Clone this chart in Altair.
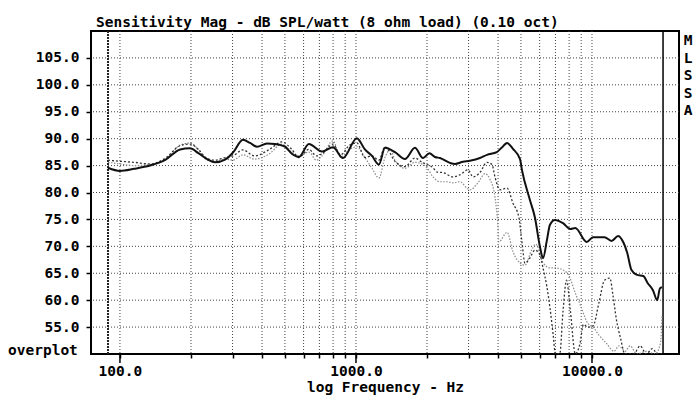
import altair as alt
import pandas as pd

TITLE = "Sensitivity Mag - dB SPL/watt (8 ohm load) (0.10 oct)"
X_TITLE = "log Frequency - Hz"
SIDE_TAG = "M\nL\nS\nS\nA"
CORNER_TAG = "overplot"

# Solid curve (on-axis)
freq_solid = [89, 100, 115, 134, 155, 180, 198, 215, 234, 253, 279, 301, 332, 356, 381,
              420, 454, 500, 535, 573, 632, 718, 799, 881, 1009, 1091, 1169, 1251, 1327,
              1463, 1613, 1778, 1923, 2047, 2162, 2270, 2500, 2630, 2840, 3040, 3350, 3590,
              3950, 4140, 4370, 4626, 4955, 5049, 5458, 5728, 6020, 6200, 6445, 6637, 6966,
              7536, 8100, 8500, 9500, 10100, 11300, 12100, 12900, 13400, 14100, 14700,
              15500, 16500, 17200, 18100, 18900, 19400, 19800]
db_solid = [84.6, 84.0, 84.4, 85.0, 86.0, 88.0, 88.2, 87.3, 86.2, 85.6, 86.1, 87.4, 89.8, 89.2, 88.5,
            89.1, 89.0, 88.5, 87.2, 86.6, 89.0, 87.6, 88.4, 86.4, 90.1, 88.0, 86.8, 85.2, 88.3,
            87.5, 86.2, 88.3, 86.4, 87.3, 86.6, 86.4, 85.5, 85.3, 85.7, 85.9, 86.4, 87.0,
            87.5, 88.3, 89.2, 88.1, 86.2, 84.2, 78.6, 75.4, 69.9, 67.8, 71.2, 74.0, 74.9,
            74.3, 73.2, 73.4, 70.8, 71.7, 71.7, 71.0, 71.9, 71.2, 68.8, 65.6,
            64.7, 64.5, 63.2, 61.9, 60.0, 62.2, 62.4]

# Dark dotted curve
freq_a = [89, 100, 115, 134, 155, 180, 198, 215, 234, 253, 279, 301, 332, 372, 430, 485, 535,
          573, 632, 680, 718, 799, 860, 940, 1009, 1091, 1169, 1251, 1327, 1463, 1613, 1778,
          1923, 2000, 2120, 2205, 2337, 2576, 2760, 2983, 3134, 3350, 3590, 3770, 3880, 4074,
          4367, 4626, 4900, 5050, 5200, 5450, 5730, 6020, 6200, 6440, 6640, 6850, 7000, 7300,
          7540, 7800, 8100, 8500, 8900, 9200, 9600, 10100, 10700, 11300, 11900, 12300, 12700,
          13200, 13800, 15000, 16000, 17000, 18000, 19000, 19800]
db_a = [86.0, 85.8, 85.6, 85.3, 86.3, 88.7, 89.0, 88.0, 86.3, 86.0, 86.5, 86.8, 87.9, 86.8, 88.0, 89.4, 88.0,
        86.5, 88.0, 86.8, 87.2, 89.0, 87.0, 88.8, 89.2, 86.5, 86.8, 86.0, 88.5, 85.8, 84.8, 86.4,
        85.5, 85.2, 84.6, 83.8, 83.7, 82.9, 83.3, 84.2, 82.9, 83.7, 85.6, 85.2, 82.9, 80.5,
        80.8, 78.0, 75.4, 70.8, 66.9, 67.8, 69.3, 68.4, 66.0, 62.5, 58.5, 53.5, 50.0, 50.0,
        58.0, 63.7, 58.0, 50.0, 52.0, 55.5, 55.0, 55.2, 59.5, 63.7, 64.1, 60.6, 56.3,
        53.0, 50.0, 50.0, 51.5, 50.0, 51.0, 50.0, 50.0]

# Grey dotted curve
freq_b = [89, 100, 115, 134, 155, 180, 198, 215, 234, 253, 279, 301, 332, 372, 430, 485, 535,
          573, 632, 680, 718, 799, 860, 940, 1009, 1091, 1169, 1251, 1327, 1400, 1463, 1613,
          1778, 1923, 2000, 2120, 2270, 2430, 2576, 2760, 2953, 3042, 3289, 3521, 3700, 3880,
          3990, 4030, 4367, 4626, 4955, 5200, 5550, 5780, 6200, 6640, 7000, 7536, 8000, 8500,
          9000, 9300, 9600, 10100, 10700, 11500, 12400, 13000, 13800, 14500, 15500, 17000,
          18500, 19500, 19800]
db_b = [85.6, 85.3, 85.0, 85.2, 86.0, 88.8, 89.2, 88.0, 86.0, 85.8, 86.2, 86.0, 87.0, 86.2, 87.2, 89.0, 87.5,
        86.8, 87.5, 86.0, 86.8, 89.6, 86.6, 88.0, 88.5, 86.5, 84.5, 82.7, 86.5, 88.0, 86.0, 84.5,
        85.6, 85.2, 84.6, 82.9, 82.0, 82.0, 81.8, 82.0, 80.8, 80.5, 81.8, 83.5, 82.4, 79.2,
        74.0, 70.8, 72.6, 69.0, 66.9, 66.5, 69.3, 70.4, 67.0, 66.0, 66.0, 65.6, 64.5, 61.3,
        58.7, 57.0, 55.7, 55.0, 53.5, 52.0, 50.5, 51.5, 50.5, 51.5, 50.0, 50.5,
        50.0, 52.0, 57.0]

grid_freqs = [100, 200, 300, 400, 500, 600, 700, 800, 900,
              1000, 2000, 3000, 4000, 5000, 6000, 7000, 8000, 9000, 10000]
major_freqs = [100, 1000, 10000]
grid_db = [55, 60, 65, 70, 75, 80, 85, 90, 95, 100, 105]
marker_freq = [89]
end_freq = [20000]

FONT = "DejaVu Sans Mono"
FS = 14.5
W, H = 588, 323

x_scale = alt.Scale(type="log", domain=[75.4, 23370], nice=False)
y_scale = alt.Scale(domain=[50, 110], nice=False, zero=False)

label_expr = ("datum.value == 100 ? '100.0' : datum.value == 1000 ? '1000.0' : "
              "datum.value == 10000 ? '10000.0' : ''")

X_AXIS = alt.Axis(
    values=grid_freqs, labelExpr=label_expr, tickSize=4, tickColor="black",
    tickWidth=1.5, domain=False, grid=False, labelOverlap=False, labelFlush=False,
    labelFont=FONT, labelFontSize=FS, labelFontWeight="bold", labelColor="black",
    labelPadding=6, title=X_TITLE, titleFont=FONT, titleFontSize=FS,
    titleFontWeight="bold", titleColor="black", titlePadding=3)

Y_AXIS = alt.Axis(
    values=grid_db, format=".1f", tickSize=5, tickColor="black", tickWidth=1.5,
    domain=False, grid=False, labelFont=FONT, labelFontSize=FS,
    labelFontWeight="bold", labelColor="black", labelPadding=7, title=None)


def xenc(field="f:Q"):
    return alt.X(field, scale=x_scale, axis=X_AXIS)


def yenc(field):
    return alt.Y(field, scale=y_scale, axis=Y_AXIS)


vgrid = alt.Chart(pd.DataFrame({"f": grid_freqs})).mark_rule(
    color="#444", strokeWidth=1, strokeDash=[1, 2]
).encode(x=xenc())

hgrid = alt.Chart(pd.DataFrame({"v": grid_db})).mark_rule(
    color="#444", strokeWidth=1, strokeDash=[1, 2]
).encode(y=yenc("v:Q"))

major_ticks = alt.Chart(pd.DataFrame({"f": major_freqs})).mark_rule(
    color="black", strokeWidth=1.5
).encode(x=xenc(), y=alt.value(H), y2=alt.value(H + 9))

marker = alt.Chart(pd.DataFrame({"f": marker_freq})).mark_rule(
    color="#222", strokeWidth=2, strokeDash=[2, 1]
).encode(x=xenc())

end_line = alt.Chart(pd.DataFrame({"f": end_freq})).mark_rule(
    color="black", strokeWidth=1.5
).encode(x=xenc())


def curve(freqs, dbs, color, width, dash=None):
    kw = dict(color=color, strokeWidth=width, interpolate="monotone", clip=True)
    if dash is not None:
        kw["strokeDash"] = dash
    return alt.Chart(pd.DataFrame({"f": freqs, "db": dbs})).mark_line(**kw).encode(
        x=xenc(), y=yenc("db:Q"), order="f:Q"
    )


line_b = curve(freq_b, db_b, "#8a8a8a", 1.2, [1.5, 1.5])
line_a = curve(freq_a, db_a, "#333333", 1.3, [2, 2])
line_s = curve(freq_solid, db_solid, "#111111", 2)

title_txt = alt.Chart(pd.DataFrame({"t": [TITLE]})).mark_text(
    align="left", baseline="alphabetic", font=FONT, fontSize=FS, fontWeight="bold", color="black"
).encode(x=alt.value(5), y=alt.value(-4), text="t:N")

side_txt = alt.Chart(pd.DataFrame({"t": [SIDE_TAG]})).mark_text(
    align="center", baseline="top", font=FONT, fontSize=FS, fontWeight="bold", color="black",
    lineBreak="\n", lineHeight=17.5
).encode(x=alt.value(W + 9), y=alt.value(3), text="t:N")

corner_txt = alt.Chart(pd.DataFrame({"t": [CORNER_TAG]})).mark_text(
    align="left", baseline="middle", font=FONT, fontSize=FS, fontWeight="bold", color="black"
).encode(x=alt.value(-83), y=alt.value(H - 3), text="t:N")

chart = alt.layer(
    vgrid, hgrid, marker, end_line, major_ticks, line_b, line_a, line_s,
    title_txt, side_txt, corner_txt
).properties(
    width=W, height=H,
    padding={"left": 91, "top": 31, "right": 21, "bottom": 55},
    autosize=alt.AutoSizeParams(type="none"),
    background="white"
).configure_view(stroke="black", strokeWidth=2)

chart.save("out.html", embed_options={"renderer": "svg", "actions": False})
